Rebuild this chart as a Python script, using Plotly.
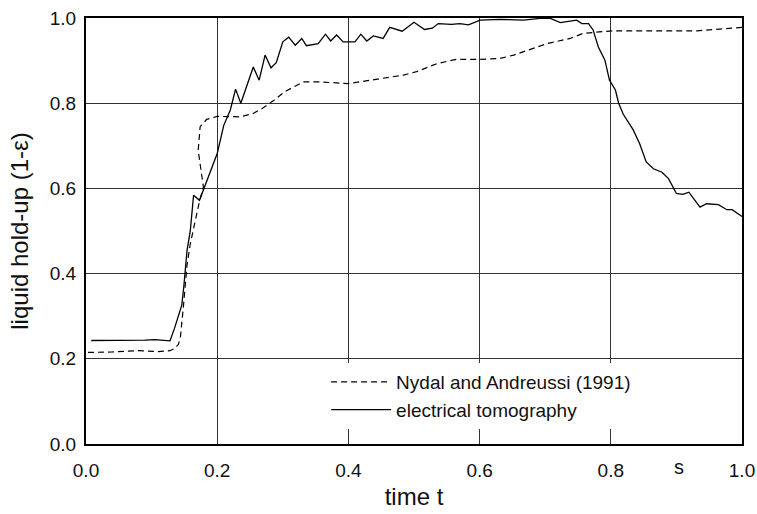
import plotly.graph_objects as go

# Nydal and Andreussi (1991) - dashed
nydal_t = [0.003, 0.039, 0.079, 0.110, 0.128, 0.135, 0.141, 0.144, 0.149, 0.154, 0.159, 0.166,
           0.173, 0.179, 0.175, 0.171, 0.174, 0.184, 0.200, 0.217, 0.235, 0.255, 0.268, 0.285,
           0.303, 0.331, 0.356, 0.400, 0.433, 0.484, 0.504, 0.535, 0.565, 0.601, 0.631, 0.652,
           0.703, 0.738, 0.758, 0.783, 0.803, 0.880, 0.931, 0.966, 1.000]
nydal_h = [0.215, 0.216, 0.219, 0.217, 0.219, 0.224, 0.234, 0.252, 0.331, 0.42, 0.47, 0.52,
           0.57, 0.603, 0.645, 0.689, 0.745, 0.762, 0.769, 0.768, 0.768, 0.776, 0.787, 0.805,
           0.827, 0.85, 0.85, 0.846, 0.854, 0.866, 0.874, 0.893, 0.903, 0.903, 0.905, 0.913,
           0.94, 0.952, 0.964, 0.968, 0.97, 0.97, 0.97, 0.974, 0.978]

# electrical tomography - solid
tomo_t = [0.008, 0.049, 0.090, 0.105, 0.128, 0.135, 0.146, 0.149, 0.151, 0.154, 0.159, 0.164,
          0.173, 0.200, 0.210, 0.220, 0.228, 0.236, 0.255, 0.264, 0.273, 0.282, 0.290, 0.300,
          0.309, 0.319, 0.329, 0.336, 0.354, 0.365, 0.373, 0.382, 0.392, 0.410, 0.419, 0.428,
          0.438, 0.453, 0.463, 0.482, 0.500, 0.516, 0.528, 0.537, 0.557, 0.570, 0.583, 0.601,
          0.631, 0.667, 0.692, 0.708, 0.723, 0.738, 0.748, 0.756, 0.766, 0.773, 0.781, 0.791,
          0.798, 0.807, 0.812, 0.819, 0.834, 0.844, 0.854, 0.865, 0.878, 0.888, 0.900, 0.910,
          0.919, 0.936, 0.946, 0.964, 0.977, 0.985, 1.000]
tomo_h = [0.243, 0.243, 0.244, 0.245, 0.242, 0.272, 0.326, 0.368, 0.403, 0.454, 0.501, 0.584,
          0.572, 0.682, 0.748, 0.784, 0.833, 0.80, 0.885, 0.854, 0.913, 0.883, 0.895, 0.944,
          0.955, 0.936, 0.952, 0.935, 0.94, 0.962, 0.946, 0.96, 0.944, 0.944, 0.962, 0.946,
          0.958, 0.952, 0.978, 0.969, 0.99, 0.973, 0.976, 0.987, 0.985, 0.987, 0.984, 0.995,
          0.997, 0.995, 0.999, 0.999, 0.989, 0.992, 0.995, 0.987, 0.987, 0.972, 0.932, 0.901,
          0.854, 0.831, 0.80, 0.774, 0.738, 0.705, 0.662, 0.646, 0.638, 0.623, 0.588, 0.586,
          0.591, 0.556, 0.564, 0.562, 0.550, 0.550, 0.534]

tick_vals = [0.0, 0.2, 0.4, 0.6, 0.8, 1.0]
tick_text = ["0.0", "0.2", "0.4", "0.6", "0.8", "1.0"]
unit_label = "s"
unit_pos = 0.904

FONT = "Liberation Sans, Arial, sans-serif"

fig = go.Figure()
fig.add_trace(go.Scatter(x=nydal_t, y=nydal_h, mode="lines",
                         name="Nydal and Andreussi (1991)",
                         line=dict(color="black", width=1.2, dash="6px,4px")))
fig.add_trace(go.Scatter(x=tomo_t, y=tomo_h, mode="lines",
                         name="electrical tomography",
                         line=dict(color="black", width=1.3)))

fig.update_layout(
    width=757, height=514,
    margin=dict(l=86, r=15, t=18, b=70),
    paper_bgcolor="white", plot_bgcolor="white",
    font=dict(family=FONT, size=20, color="#111"),
    showlegend=True,
    legend=dict(x=0.366, y=0.19, xanchor="left", yanchor="top",
                bgcolor="white", borderwidth=0, font=dict(size=19),
                itemwidth=60, tracegroupgap=0),
    annotations=[dict(x=unit_pos, y=0, xref="x", yref="paper", text=unit_label,
                      showarrow=False, yanchor="top", yshift=-10,
                      font=dict(size=20))],
)
fig.update_xaxes(range=[0, 1], tickvals=tick_vals, ticktext=tick_text,
                 showgrid=True, gridcolor="#333", gridwidth=1,
                 showline=True, linecolor="black", linewidth=2, mirror=True,
                 zeroline=False, ticks="outside", ticklen=8,
                 tickcolor="rgba(0,0,0,0)", tickfont=dict(size=19),
                 automargin=False,
                 title=dict(text="time t", standoff=8))
fig.update_yaxes(range=[0, 1], tickvals=tick_vals, ticktext=tick_text,
                 showgrid=True, gridcolor="#333", gridwidth=1,
                 showline=True, linecolor="black", linewidth=2, mirror=True,
                 zeroline=False, ticks="outside", ticklen=4,
                 tickcolor="rgba(0,0,0,0)", tickfont=dict(size=19),
                 automargin=False,
                 title=dict(text="liquid hold-up (1-ε)", standoff=14))

fig.write_html("out.html")
